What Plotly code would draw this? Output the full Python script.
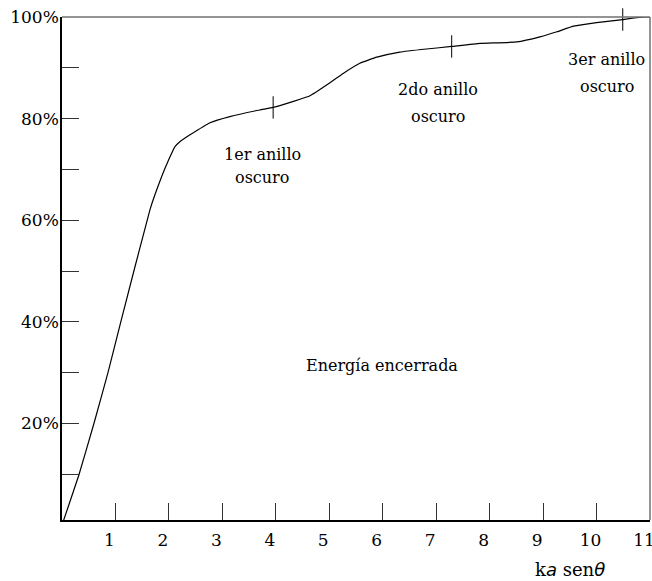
import plotly.graph_objects as go

# Curve: x = k a sin(theta), y = encircled energy (%)
curve_x = [0.0, 0.32, 0.60, 0.86, 1.10, 1.646, 1.865, 2.0, 2.114, 2.20, 2.395, 2.77, 3.14,
           3.70, 3.95, 4.33, 4.64, 4.95, 5.26, 5.57, 5.89, 6.32, 6.82, 7.29, 7.82, 8.51,
           8.94, 9.26, 9.57, 10.0, 10.49, 10.88, 11.0]
curve_y = [0.0, 10.0, 20.1, 30.0, 40.0, 62.1, 68.6, 72.0, 74.5, 75.4, 76.8, 79.2, 80.4,
           81.7, 82.2, 83.4, 84.5, 86.6, 88.9, 90.9, 92.1, 93.1, 93.7, 94.2, 94.8, 95.1,
           96.1, 97.1, 98.2, 98.9, 99.5, 100.0, 100.0]

# Dark-ring markers
ring_x = [3.95, 7.29, 10.49]
ring_y = [82.2, 94.2, 99.5]
ring_line1 = ["1er anillo", "2do anillo", "3er anillo"]
ring_line2 = ["oscuro", "oscuro", "oscuro"]
ring_label_x = [3.75, 7.03, 10.19]
ring_line1_y = [73.0, 85.8, 91.7]
ring_line2_y = [68.5, 80.5, 86.4]

x_tickvals = [1, 2, 3, 4, 5, 6, 7, 8, 9, 10, 11]
x_ticktext = ["1", "2", "3", "4", "5", "6", "7", "8", "9", "10", "11"]
y_tickvals = [10, 20, 30, 40, 50, 60, 70, 80, 90, 100]
y_ticktext = ["", "20%", "", "40%", "", "60%", "", "80%", "", "100%"]

SERIF = "DejaVu Serif"

fig = go.Figure()
fig.add_trace(go.Scatter(x=curve_x, y=curve_y, mode="lines",
                         line=dict(color="black", width=1.2, shape="spline", smoothing=0.3),
                         hoverinfo="skip", showlegend=False))
fig.add_trace(go.Scatter(x=ring_x, y=ring_y, mode="markers",
                         marker=dict(symbol="line-ns", size=16, line=dict(color="black", width=1)),
                         hoverinfo="skip", showlegend=False, cliponaxis=False))

for tx, y1, y2, t1, t2 in zip(ring_label_x, ring_line1_y, ring_line2_y, ring_line1, ring_line2):
    fig.add_annotation(x=tx, y=y1, text=t1, showarrow=False, xanchor="center", yanchor="middle",
                       font=dict(family=SERIF, size=16, color="black"))
    fig.add_annotation(x=tx, y=y2, text=t2, showarrow=False, xanchor="center", yanchor="middle",
                       font=dict(family=SERIF, size=16, color="black"))

fig.add_annotation(x=5.98, y=31.4, text="Energía encerrada", showarrow=False,
                   font=dict(family=SERIF, size=16, color="black"))

fig.add_annotation(xref="paper", yref="paper", x=0.864, y=-0.099, xanchor="center", yanchor="middle",
                   text='k<span style="font-family:DejaVu Sans;font-style:italic">a</span> sen'
                        '<span style="font-family:DejaVu Sans;font-style:italic">θ</span>',
                   showarrow=False, font=dict(family=SERIF, size=18, color="black"))

# top and right border (grey)
fig.add_shape(type="line", xref="paper", yref="paper", x0=0, x1=1, y0=1, y1=1,
              line=dict(color="#707070", width=1.5))
fig.add_shape(type="line", xref="paper", yref="paper", x0=1, x1=1, y0=0, y1=1,
              line=dict(color="#707070", width=1.5))

fig.update_xaxes(range=[0, 11], tickvals=x_tickvals, ticktext=x_ticktext,
                 ticks="inside", ticklen=17, tickcolor="#333", tickwidth=1.2,
                 showline=True, linecolor="black", linewidth=1.5, showgrid=False, zeroline=False,
                 tickfont=dict(family=SERIF, size=17, color="black"), ticklabelstandoff=4,
                 ticklabelshift=-6, ticklabeloverflow="allow", automargin=False)
fig.update_yaxes(range=[1.0, 100], tickvals=y_tickvals, ticktext=y_ticktext,
                 ticks="inside", ticklen=17, tickcolor="#333", tickwidth=1.2,
                 showline=True, linecolor="black", linewidth=1.5, showgrid=False, zeroline=False,
                 tickfont=dict(family=SERIF, size=17, color="black"), ticklabelstandoff=-2,
                 ticklabeloverflow="allow", automargin=False)

fig.update_layout(width=652, height=581, margin=dict(l=62, r=2, t=17, b=61, autoexpand=False),
                  plot_bgcolor="white", paper_bgcolor="white")

fig.write_html("out.html", config={"displayModeBar": False},
               post_script="document.body.style.margin='0';document.body.style.overflow='hidden';")
